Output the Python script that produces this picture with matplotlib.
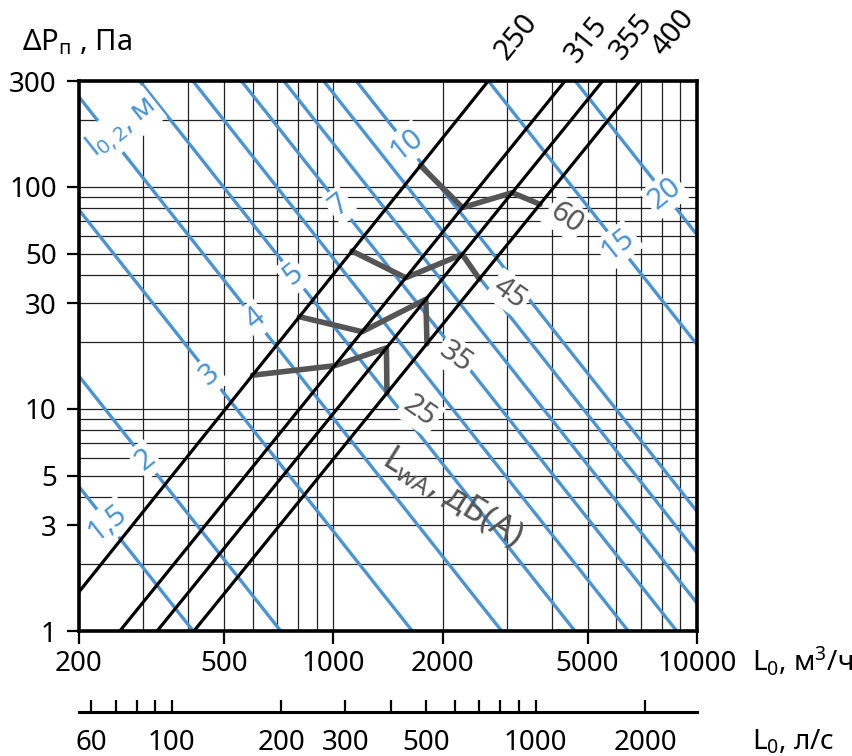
import numpy as np
import matplotlib
matplotlib.use('Agg')
import matplotlib.pyplot as plt
from matplotlib.ticker import FixedLocator, FixedFormatter, NullFormatter

plt.rcParams['font.family'] = ['Noto Sans', 'DejaVu Sans']
plt.rcParams['mathtext.default'] = 'regular'

# ---------------- data ----------------
x_ticks = [200, 500, 1000, 2000, 5000, 10000]
y_ticks = [1, 3, 5, 10, 30, 50, 100, 300]
ls_ticks = [60, 100, 200, 300, 500, 1000, 2000]
ls_minor = [70, 80, 90, 400, 600, 700, 800, 900]

# diffuser sizes: flow (m3/h) at 1 Pa and at 300 Pa
diam_labels = ['250', '315', '355', '400']
diam_L_1pa = [164, 259, 328, 414]
diam_L_300pa = [2667, 4335, 5504, 6970]
diam_label_L = [3199, 4984, 6624, 8586]
diam_label_dp = [476, 461, 476, 492]

# throw lines l0.2 (m): flow (m3/h) at which the line reaches 1 Pa
throw_values = [1.5, 2, 3, 4, 5, 6, 7, 8, 9, 10, 15, 20]
throw_L_1pa = [412, 717, 1649, 2904, 4617, 6471, 8795, 11500, 14800, 18200, 42000, 72800]
throw_exp = 2.07
throw_label_text = ['1,5', '2', '3', '4', '5', '7', '10', '15', '20']
throw_label_value = [1.5, 2, 3, 4, 5, 7, 10, 15, 20]
throw_label_L = [240, 304, 458, 609, 776, 1043, 1594, 6074, 8162]

# sound power level curves: flow (m3/h) on each size line
sound_levels = ['25', '35', '45', '60']
sound_L = [[600, 1008, 1400, 1405],
           [807, 1200, 1797, 1810],
           [1126, 1582, 2263, 2522],
           [1737, 2266, 3105, 3700]]
sound_label_L = [1732, 2174, 3059, 4361]
sound_label_dp = [9.7, 17.1, 33.3, 72.5]

# ---------------- helpers ----------------
def diam_dp(i, L):
    n = np.log10(300.0) / np.log10(diam_L_300pa[i] / diam_L_1pa[i])
    return (np.asarray(L, float) / diam_L_1pa[i]) ** n

def throw_dp(i, L):
    return (np.asarray(L, float) / throw_L_1pa[i]) ** (-throw_exp)

BLUE = '#4a94d3'
GRAY = '#555555'

W, H = 853, 756
PL, PR, PT, PB = 79, 697, 81, 631
fig = plt.figure(figsize=(W / 100, H / 100), dpi=100)
ax = fig.add_axes([PL / W, 1 - PB / H, (PR - PL) / W, (PB - PT) / H])
ax.set_xscale('log')
ax.set_yscale('log')
ax.set_xlim(200, 10000)
ax.set_ylim(1, 300)

def minor_vals(lo, hi, major):
    out = []
    for k in range(-1, 6):
        for m in range(1, 10):
            v = m * 10 ** k
            if lo < v < hi and v not in major:
                out.append(v)
    return out

ax.xaxis.set_major_locator(FixedLocator(x_ticks))
ax.xaxis.set_major_formatter(FixedFormatter([str(v) for v in x_ticks]))
ax.xaxis.set_minor_locator(FixedLocator(minor_vals(200, 10000, x_ticks)))
ax.xaxis.set_minor_formatter(NullFormatter())
ax.yaxis.set_major_locator(FixedLocator(y_ticks))
ax.yaxis.set_major_formatter(FixedFormatter([str(v) for v in y_ticks]))
ax.yaxis.set_minor_locator(FixedLocator(minor_vals(1, 300, y_ticks)))
ax.yaxis.set_minor_formatter(NullFormatter())

ax.set_axisbelow(True)
ax.grid(which='both', color='#222222', lw=0.9)
ax.tick_params(which='major', direction='out', length=9, width=1.6,
               labelsize=20, colors='black')
ax.tick_params(axis='x', which='major', pad=5)
ax.tick_params(axis='y', which='major', pad=7)
ax.tick_params(which='minor', length=0)
for s in ax.spines.values():
    s.set_linewidth(2.6)
    s.set_zorder(10)

Lgrid = np.geomspace(150, 12000, 400)

# throw lines
for i in range(len(throw_values)):
    ax.plot(Lgrid, throw_dp(i, Lgrid), color=BLUE, lw=2.4, zorder=2,
            solid_capstyle='butt')

# sound curves
for j, lv in enumerate(sound_levels):
    xs = sound_L[j]
    ys = [float(diam_dp(i, xs[i])) for i in range(4)]
    ax.plot(xs, ys, color=GRAY, lw=4.0, zorder=3, solid_joinstyle='round',
            solid_capstyle='round')

# diameter lines
for i in range(len(diam_labels)):
    ax.plot(Lgrid, diam_dp(i, Lgrid), color='black', lw=2.3, zorder=7)
    ax.text(diam_label_L[i], diam_label_dp[i], diam_labels[i], rotation=51,
            ha='center', va='center', fontsize=21, clip_on=False, zorder=6)

# throw labels
box = dict(boxstyle='square,pad=0.1', fc='white', ec='none')
for t, v, Lx in zip(throw_label_text, throw_label_value, throw_label_L):
    i = throw_values.index(v)
    ax.text(Lx, float(throw_dp(i, Lx)), t, rotation=38.5, color=BLUE,
            fontsize=21, ha='center', va='center', bbox=box, zorder=6,
            clip_on=True)

ax.text(262, 185, r'l$_{0,2}$, м', rotation=38.5, color=BLUE, fontsize=21,
        ha='center', va='center', bbox=box, zorder=6, clip_on=True)

# sound labels
for t, Lx, dp in zip(sound_levels, sound_label_L, sound_label_dp):
    ax.text(Lx, dp, t, rotation=-35, color=GRAY, fontsize=21,
            ha='center', va='center', bbox=box, zorder=6, clip_on=True)

ax.text(2120, 4.0, r'L$_{wA}$, дБ(A)', rotation=-32, color=GRAY, fontsize=25,
        ha='center', va='center', zorder=6)

# axis titles
fig.text(22 / W, 1 - 42 / H, r'ΔP$_{п}$ , Па', fontsize=21, ha='left', va='center')
fig.text(752 / W, 1 - 661 / H, r'L$_0$, м$^3$/ч', fontsize=20, ha='left', va='center')
fig.text(752 / W, 1 - 742 / H, r'L$_0$, л/с', fontsize=20, ha='left', va='center')

# secondary axis in l/s
AY = 712
ax2 = fig.add_axes([PL / W, 1 - AY / H, (PR - PL) / W, 0.001])
ax2.set_xscale('log')
ax2.set_xlim(200 / 3.6, 10000 / 3.6)
ax2.set_facecolor('none')
for k in ['top', 'left', 'right']:
    ax2.spines[k].set_visible(False)
ax2.spines['bottom'].set_linewidth(2.2)
ax2.yaxis.set_visible(False)
ax2.xaxis.set_major_locator(FixedLocator(ls_ticks))
ax2.xaxis.set_major_formatter(FixedFormatter([str(v) for v in ls_ticks]))
ax2.xaxis.set_minor_locator(FixedLocator(ls_minor))
ax2.xaxis.set_minor_formatter(NullFormatter())
ax2.tick_params(which='both', direction='in', length=9, width=1.6)
ax2.tick_params(which='major', labelsize=20, pad=12)

fig.savefig('out.png', dpi=100)
